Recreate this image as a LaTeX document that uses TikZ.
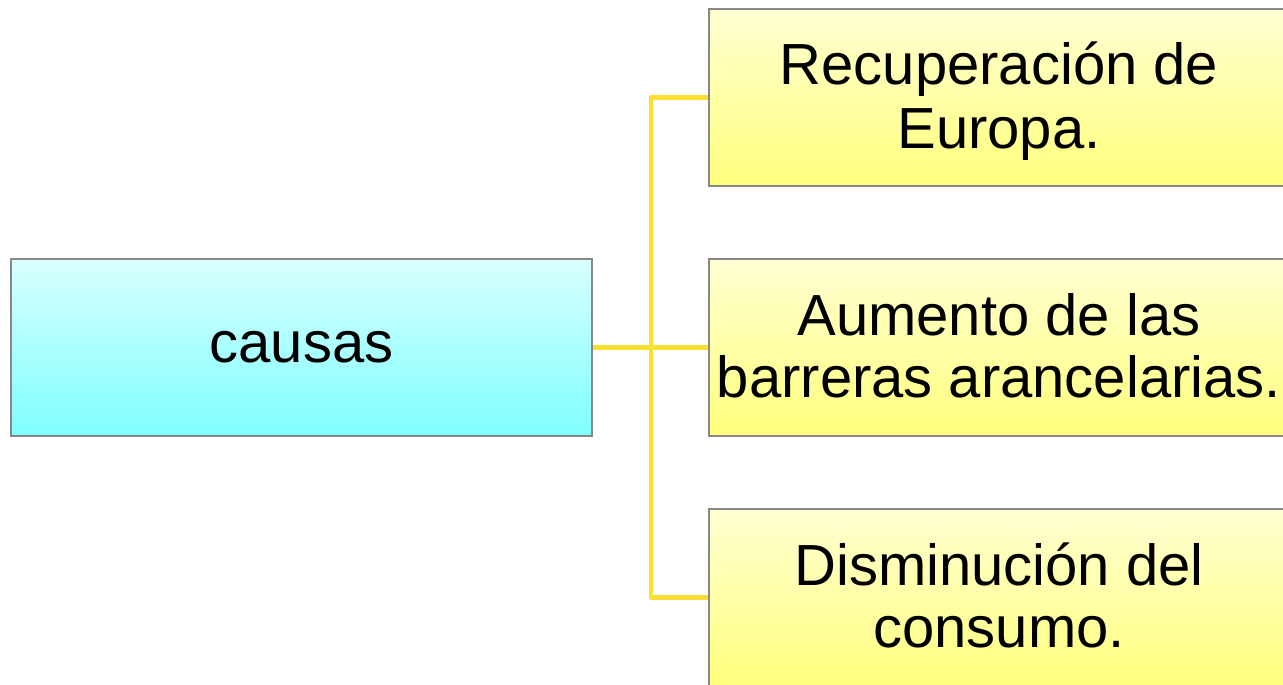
\documentclass[tikz,border=0pt]{standalone}
\usepackage{fontspec}
\setmainfont{Liberation Sans}
\definecolor{linkyel}{RGB}{250,222,50}
\definecolor{cyantop}{RGB}{216,255,255}
\definecolor{cyanbot}{RGB}{128,255,255}
\definecolor{yeltop}{RGB}{255,255,210}
\definecolor{yelbot}{RGB}{255,255,125}
\definecolor{boxedge}{RGB}{135,135,135}
\newcommand\lnstrut{\rule[-9pt]{0pt}{46.5pt}}
\begin{document}
\begin{tikzpicture}[x=0.75pt,y=-0.75pt,
  box/.style={draw=boxedge,line width=1.1pt,inner sep=0pt,align=center,
    font=\fontsize{43.5}{46.5}\selectfont,text=black},
  cbox/.style={box,top color=cyantop,bottom color=cyanbot,minimum width=435.75pt,minimum height=132.75pt},
  ybox/.style={box,top color=yeltop,bottom color=yelbot,minimum width=435pt,minimum height=132.75pt},
  link/.style={draw=linkyel,line width=3.2pt,line join=round}]
\useasboundingbox (0,0) rectangle (1283,685);
\node[cbox] (causas) at (301.5,347.5) {causas};
\node[ybox] (r1) at (999,97.5) {\lnstrut Recuperación de\\\lnstrut Europa.};
\node[ybox] (r2) at (999,347.5) {\lnstrut Aumento de las\\\lnstrut barreras arancelarias.};
\node[ybox] (r3) at (999,597.5) {\lnstrut Disminución del\\\lnstrut consumo.};
\coordinate (j) at (651,347.5);
\path[link] (causas.east) -- (j);
\path[link] (j) |- (r1.west);
\path[link] (j) -- (r2.west);
\path[link] (j) |- (r3.west);
\end{tikzpicture}
\end{document}
